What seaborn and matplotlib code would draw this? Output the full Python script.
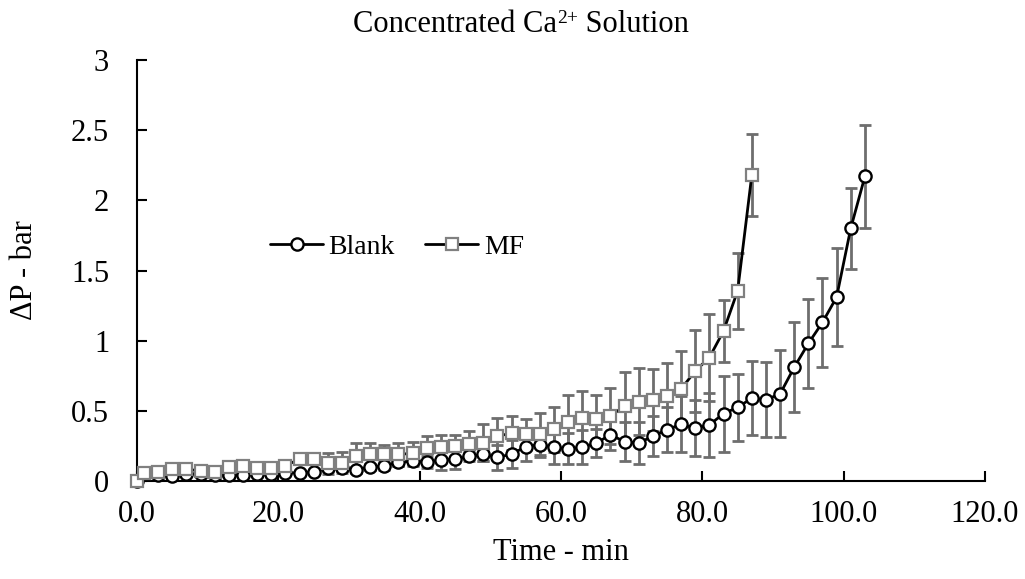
import matplotlib
matplotlib.use("Agg")
import matplotlib.pyplot as plt
import seaborn as sns

# ---------------- data ----------------
blank_time = [0, 1, 3, 5, 7, 9, 11, 13, 15, 17, 19, 21, 23, 25, 27, 29, 31, 33, 35, 37,
              39, 41, 43, 45, 47, 49, 51, 53, 55, 57, 59, 61, 63, 65, 67, 69, 71, 73, 75,
              77, 79, 81, 83, 85, 87, 89, 91, 93, 95, 97, 99, 101, 103]
blank_dp = [0.0, 0.06, 0.04, 0.035, 0.05, 0.05, 0.045, 0.04, 0.04, 0.05, 0.05, 0.055, 0.06,
            0.065, 0.09, 0.09, 0.08, 0.10, 0.107, 0.135, 0.14, 0.135, 0.15, 0.155, 0.175,
            0.19, 0.17, 0.19, 0.245, 0.26, 0.24, 0.23, 0.24, 0.27, 0.33, 0.28, 0.27, 0.32,
            0.365, 0.405, 0.375, 0.40, 0.48, 0.525, 0.59, 0.58, 0.62, 0.81, 0.98, 1.13,
            1.31, 1.80, 2.17]
blank_err = [0.0, 0.01, 0.01, 0.01, 0.01, 0.01, 0.01, 0.01, 0.01, 0.01, 0.01, 0.01, 0.01,
             0.015, 0.02, 0.02, 0.02, 0.02, 0.03, 0.03, 0.03, 0.04, 0.07, 0.07, 0.03, 0.05,
             0.09, 0.10, 0.10, 0.09, 0.12, 0.11, 0.12, 0.10, 0.11, 0.14, 0.15, 0.14, 0.16,
             0.20, 0.20, 0.23, 0.27, 0.24, 0.265, 0.27, 0.31, 0.32, 0.32, 0.32, 0.35, 0.29,
             0.37]

mf_time = [0, 1, 3, 5, 7, 9, 11, 13, 15, 17, 19, 21, 23, 25, 27, 29, 31, 33, 35, 37, 39,
           41, 43, 45, 47, 49, 51, 53, 55, 57, 59, 61, 63, 65, 67, 69, 71, 73, 75, 77, 79,
           81, 83, 85, 87]
mf_dp = [0.0, 0.057, 0.066, 0.083, 0.083, 0.073, 0.066, 0.097, 0.107, 0.095, 0.09, 0.11,
         0.155, 0.16, 0.126, 0.13, 0.178, 0.19, 0.19, 0.19, 0.197, 0.233, 0.245, 0.25,
         0.264, 0.273, 0.32, 0.34, 0.335, 0.335, 0.368, 0.42, 0.45, 0.44, 0.463, 0.535,
         0.565, 0.577, 0.608, 0.656, 0.784, 0.88, 1.069, 1.356, 2.18]
mf_err = [0.0, 0.02, 0.02, 0.02, 0.02, 0.02, 0.02, 0.02, 0.02, 0.02, 0.02, 0.02, 0.03,
          0.03, 0.075, 0.075, 0.09, 0.08, 0.07, 0.08, 0.08, 0.09, 0.08, 0.08, 0.09, 0.13,
          0.13, 0.12, 0.11, 0.15, 0.16, 0.19, 0.19, 0.17, 0.20, 0.24, 0.24, 0.22, 0.23,
          0.27, 0.29, 0.31, 0.22, 0.27, 0.29]

x_ticks = [0, 20, 40, 60, 80, 100, 120]
x_tick_labels = ["0.0", "20.0", "40.0", "60.0", "80.0", "100.0", "120.0"]
y_ticks = [0, 0.5, 1, 1.5, 2, 2.5, 3]
y_tick_labels = ["0", "0.5", "1", "1.5", "2", "2.5", "3"]

title_parts = ["Concentrated Ca", "2+", " Solution"]
x_label = "Time - min"
y_label = "\u0394P - bar"

# ---------------- style ----------------
sns.set_theme(style="white")
plt.rcParams["font.family"] = ["Liberation Serif", "DejaVu Serif"]
plt.rcParams["text.color"] = "black"

fig = plt.figure(figsize=(10.25, 5.79), dpi=100)
ax = fig.add_axes([137 / 1025, 1 - 481 / 579, (985 - 137) / 1025, (481 - 60) / 579])

err_color = "#6e6e6e"
ax.errorbar(blank_time, blank_dp, yerr=blank_err, fmt="none", ecolor=err_color,
            elinewidth=2, capsize=4.5, capthick=2, zorder=2, clip_on=False)
ax.errorbar(mf_time, mf_dp, yerr=mf_err, fmt="none", ecolor=err_color,
            elinewidth=2, capsize=4.5, capthick=2, zorder=2, clip_on=False)

sns.lineplot(x=blank_time, y=blank_dp, ax=ax, color="black", lw=2, marker="o",
             markersize=8.8, markerfacecolor="white", markeredgecolor="black",
             markeredgewidth=1.7, label="Blank", zorder=3, clip_on=False,
             estimator=None, sort=False)
sns.lineplot(x=mf_time, y=mf_dp, ax=ax, color="black", lw=2, marker="s",
             markersize=8.5, markerfacecolor="white", markeredgecolor="#808080",
             markeredgewidth=1.6, label="MF", zorder=4, clip_on=False,
             estimator=None, sort=False)

ax.set_xlim(0, 120)
ax.set_ylim(0, 3)
ax.set_xticks(x_ticks)
ax.set_xticklabels(x_tick_labels)
ax.set_yticks(y_ticks)
ax.set_yticklabels(y_tick_labels)

for side in ["top", "right"]:
    ax.spines[side].set_visible(False)
for side in ["left", "bottom"]:
    ax.spines[side].set_color("black")
    ax.spines[side].set_linewidth(1.5)

ax.tick_params(axis="both", which="major", direction="in", length=7, width=1.5,
               color="black", labelcolor="black", labelsize=22,
               bottom=True, left=True)
ax.tick_params(axis="x", pad=14)
ax.tick_params(axis="y", pad=20)

ax.set_xlabel("")
ax.set_ylabel("")
fig.text(561 / 1025, 1 - 552 / 579, x_label, ha="center", va="center", fontsize=22)
fig.text(25 / 1025, 1 - 270 / 579, y_label, ha="center", va="center", fontsize=22,
         rotation=90)

# title built from pieces so the superscript sits tight like the reference
renderer = fig.canvas.get_renderer()
base_y = 1 - 32 / 579
sup_y = 1 - 23 / 579
sizes = [22, 14, 22]
ys = [base_y, sup_y, base_y]
texts = [fig.text(0, y, s, fontsize=fs, ha="left", va="baseline")
         for s, fs, y in zip(title_parts, sizes, ys)]
widths = [t.get_window_extent(renderer).width for t in texts]
total = sum(widths)
x_px = 521 - total / 2
for t, w in zip(texts, widths):
    t.set_x(x_px / 1025)
    x_px += w

ax.legend(ncol=2, frameon=False, loc="center left", bbox_to_anchor=(0.157, 0.556),
          borderaxespad=0, borderpad=0, handlelength=1.9, handletextpad=0.2,
          columnspacing=1.1, fontsize=20)

fig.savefig("out.png", dpi=100)
